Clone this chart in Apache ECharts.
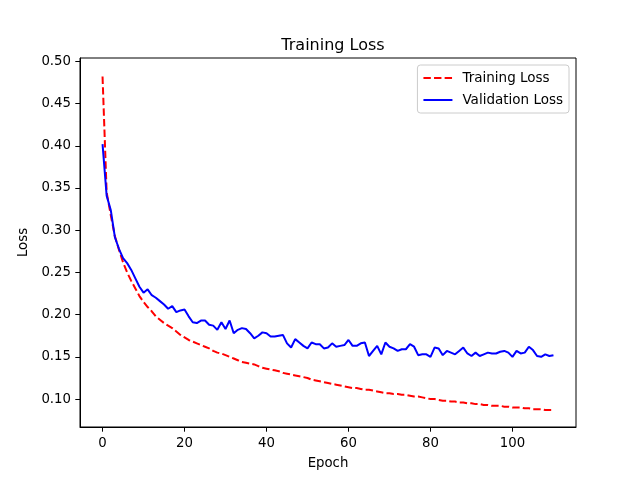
<!DOCTYPE html>
<html>
<head>
<meta charset="utf-8">
<script src="https://cdn.jsdelivr.net/npm/echarts@6/dist/echarts.min.js"></script>
<style>html,body{margin:0;padding:0;background:#fff}#c{width:640px;height:480px}</style>
</head>
<body>
<div id="c"></div>
<script>
const epochs = Array.from({length: 111}, (_, i) => i);
const trainingLoss = [
0.482,0.345,0.318,0.293,0.277,0.262,0.250,0.240,0.231,0.222,
0.215,0.209,0.204,0.198,0.194,0.190,0.187,0.184,0.180,0.176,
0.173,0.170,0.168,0.166,0.164,0.162,0.160,0.157,0.155,0.154,
0.152,0.150,0.148,0.146,0.144,0.143,0.142,0.141,0.139,0.137,
0.136,0.135,0.134,0.133,0.131,0.130,0.129,0.128,0.127,0.126,
0.125,0.123,0.122,0.121,0.120,0.119,0.118,0.117,0.116,0.115,
0.114,0.113,0.113,0.112,0.111,0.111,0.110,0.109,0.108,0.107,
0.107,0.106,0.106,0.105,0.105,0.104,0.103,0.103,0.102,0.101,
0.100,0.100,0.099,0.098,0.098,0.097,0.097,0.096,0.096,0.095,
0.095,0.094,0.094,0.093,0.093,0.092,0.092,0.092,0.091,0.091,
0.090,0.090,0.090,0.089,0.089,0.088,0.088,0.088,0.087,0.087,
0.087];
const validationLoss = [
0.402,0.341,0.324,0.292,0.278,0.267,0.261,0.253,0.243,0.233,
0.226,0.230,0.223,0.220,0.216,0.212,0.207,0.210,0.203,0.205,
0.206,0.198,0.191,0.190,0.193,0.193,0.188,0.187,0.182,0.191,
0.183,0.193,0.178,0.182,0.184,0.183,0.178,0.172,0.175,0.179,
0.178,0.174,0.174,0.175,0.176,0.166,0.161,0.171,0.167,0.163,
0.160,0.167,0.165,0.165,0.160,0.161,0.166,0.162,0.163,0.164,
0.170,0.163,0.163,0.166,0.167,0.151,0.157,0.163,0.153,0.167,
0.162,0.160,0.157,0.159,0.159,0.165,0.162,0.152,0.153,0.153,
0.150,0.161,0.160,0.152,0.157,0.155,0.153,0.157,0.161,0.154,
0.151,0.155,0.151,0.153,0.155,0.154,0.154,0.156,0.157,0.155,
0.150,0.157,0.154,0.155,0.162,0.158,0.151,0.150,0.153,0.151,
0.152];
const xTicks = [0, 20, 40, 60, 80, 100];
const yTicks = [0.10, 0.15, 0.20, 0.25, 0.30, 0.35, 0.40, 0.45, 0.50];

const FONT = 'DejaVu Sans';
const chart = echarts.init(document.getElementById('c'), null, {renderer: 'canvas'});
chart.setOption({
  animation: false,
  backgroundColor: '#fff',
  title: {
    text: 'Training Loss', left: 328, top: 33, textAlign: 'center',
    textStyle: {fontFamily: FONT, fontSize: 16, fontWeight: 'normal', color: '#000'}
  },
  grid: {left: 80, right: 64, top: 58, bottom: 53, show: true, borderColor: '#000', borderWidth: 1, backgroundColor: 'transparent'},
  legend: {
    orient: 'vertical', right: 71, top: 65,
    data: ['Training Loss', 'Validation Loss'],
    itemWidth: 29, itemHeight: 10, itemGap: 8,
    padding: [6, 6, 6, 5],
    borderColor: '#cccccc', borderWidth: 1, borderRadius: 3, backgroundColor: 'rgba(255,255,255,0.8)',
    itemStyle: {opacity: 0},
    textStyle: {fontFamily: FONT, fontSize: 13.5, color: '#000', padding: [0, 0, 0, 5]}
  },
  xAxis: {
    type: 'value', min: -5.5, max: 115.5,
    name: 'Epoch', nameLocation: 'middle', nameGap: 30,
    nameTextStyle: {fontFamily: FONT, fontSize: 13.3, color: '#000'},
    axisLine: {show: true, onZero: false, lineStyle: {color: '#000', width: 1}},
    axisTick: {show: true, length: 4.7, lineStyle: {color: '#000'}, customValues: xTicks},
    axisLabel: {fontFamily: FONT, fontSize: 13.3, color: '#000', margin: 10, customValues: xTicks},
    splitLine: {show: false}
  },
  yAxis: {
    type: 'value', min: 0.0669, max: 0.504,
    name: 'Loss', nameLocation: 'middle', nameGap: 43, nameRotate: 90,
    nameTextStyle: {fontFamily: FONT, fontSize: 13.3, color: '#000'},
    axisLine: {show: true, onZero: false, lineStyle: {color: '#000', width: 1}},
    axisTick: {show: true, length: 4.7, lineStyle: {color: '#000'}, customValues: yTicks},
    axisLabel: {fontFamily: FONT, fontSize: 13.3, color: '#000', margin: 9, customValues: yTicks,
      formatter: v => v.toFixed(2)},
    splitLine: {show: false}
  },
  series: [
    {
      name: 'Training Loss', type: 'line', symbol: 'none', showSymbol: false,
      data: epochs.map((e, i) => [e, trainingLoss[i]]),
      lineStyle: {color: '#ff0000', width: 2, type: [7.4, 3.2]},
      itemStyle: {color: '#ff0000'}
    },
    {
      name: 'Validation Loss', type: 'line', symbol: 'none', showSymbol: false,
      data: epochs.map((e, i) => [e, validationLoss[i]]),
      lineStyle: {color: '#0000ff', width: 2, type: 'solid'},
      itemStyle: {color: '#0000ff'}
    }
  ]
});
</script>
</body>
</html>
